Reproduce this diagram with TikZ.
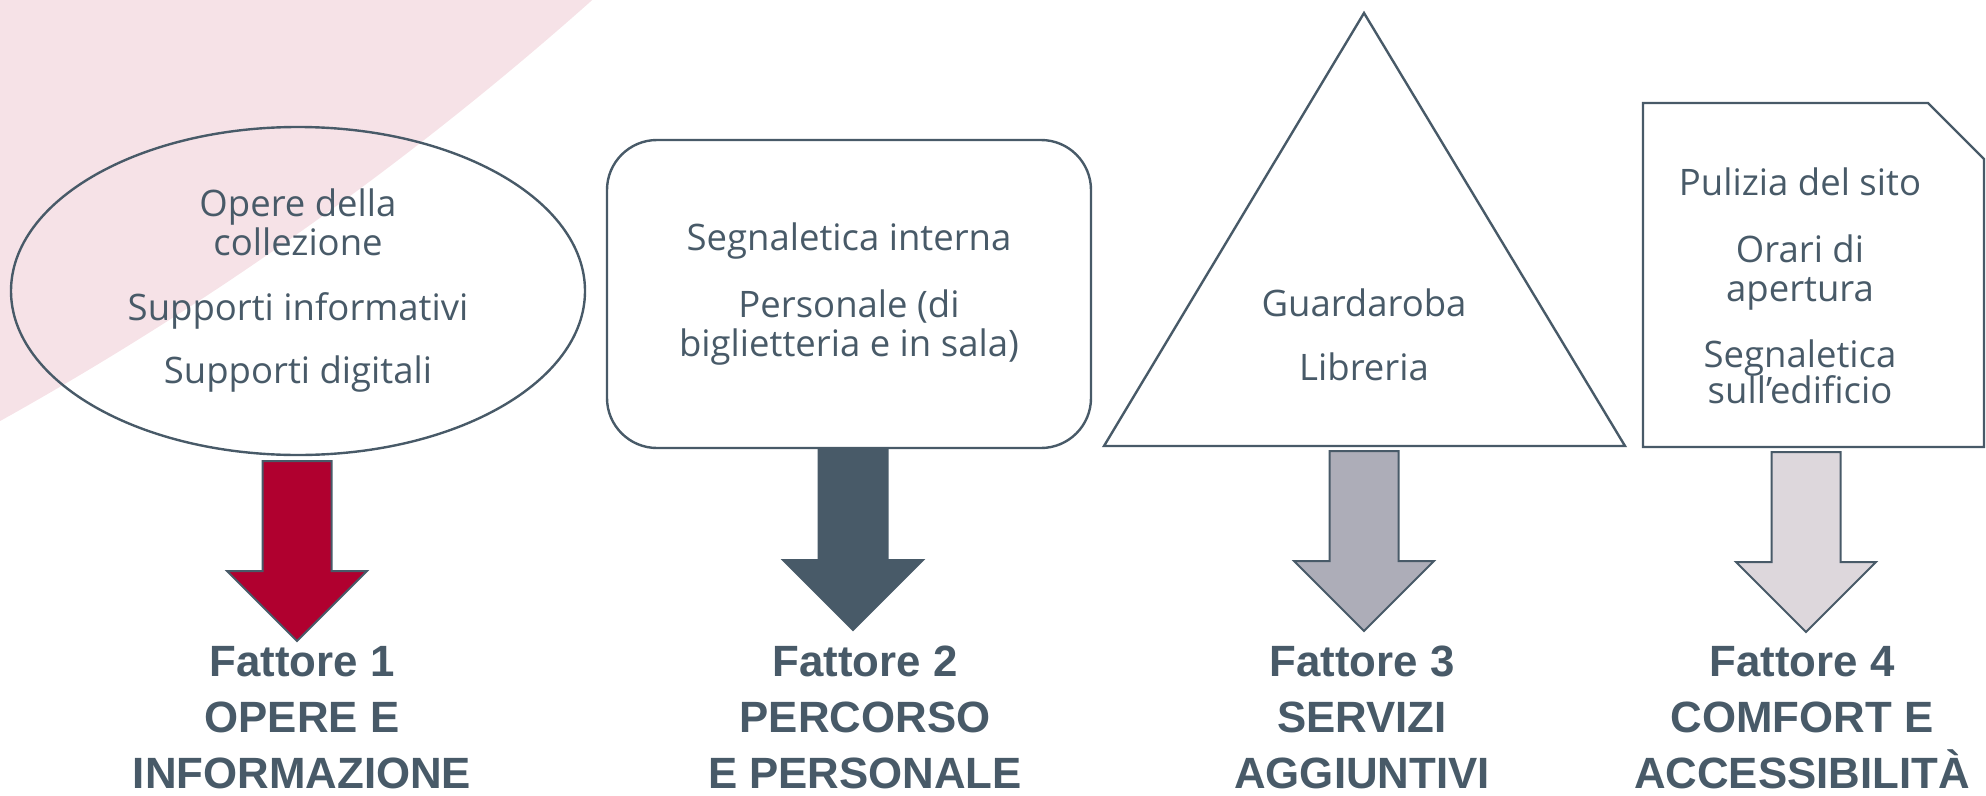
\documentclass[tikz,border=0pt]{standalone}
\usepackage{fontspec}
\setmainfont{Open Sans}
\newfontfamily\labelfont{Liberation Sans}
\usetikzlibrary{shapes.geometric}
\definecolor{slate}{HTML}{485A68}
\definecolor{redA}{HTML}{B0002F}
\definecolor{greyA}{HTML}{ADADB8}
\definecolor{pinkA}{HTML}{DDD7DC}
\definecolor{bgpink}{HTML}{F6E2E7}
\tikzset{
  shapeline/.style={draw=slate, line width=2.4pt},
  bodytext/.style={text=slate, align=center, font=\fontsize{36.5}{39}\selectfont, inner sep=0pt},
  factor/.style={text=slate, align=center, font=\labelfont\bfseries\fontsize{43.8}{56}\selectfont, anchor=base, inner sep=0pt},
  pics/dnarrow/.style={code={
    \draw[draw=slate, line width=2pt, line join=miter, fill=#1]
      (-34.5,0) -- (34.5,0) -- (34.5,110) -- (70,110) -- (0,180) -- (-70,110) -- (-34.5,110) -- cycle;}}
}
\begin{document}
\begin{tikzpicture}[x=1pt,y=-1pt]
\useasboundingbox (0,0) rectangle (1986,795);
\begin{scope}
  \clip (0,0) rectangle (1986,795);
  \fill[bgpink] (-1620,-2489) circle[radius=3330pt];
\end{scope}

% shapes with their items
\node[ellipse, shapeline, minimum width=574pt, minimum height=328pt, bodytext] (e1) at (298,291)
  {Opere della\\collezione\\[26pt]Supporti informativi\\[24pt]Supporti digitali};
\node[rectangle, rounded corners=50pt, shapeline, minimum width=484pt, minimum height=308pt, bodytext] (b2) at (849,294)
  {Segnaletica interna\\[28pt]Personale (di\\biglietteria e in sala)};

\coordinate (t3a) at (1364,13);
\coordinate (t3b) at (1104,446);
\coordinate (t3c) at (1625,446);
\draw[shapeline, line join=miter] (t3a) -- (t3b) -- (t3c) -- cycle;
\node[bodytext] (t3) at (1364,335) {Guardaroba\\[25pt]Libreria};

\coordinate (d4a) at (1643,103);
\coordinate (d4b) at (1928,103);
\coordinate (d4c) at (1984,159);
\coordinate (d4d) at (1984,447);
\coordinate (d4e) at (1643,447);
\draw[shapeline] (d4a) -- (d4b) -- (d4c) -- (d4d) -- (d4e) -- cycle;
\node[bodytext] (t4) at (1800,285.5) {Pulizia del sito\\[28pt]Orari di\\apertura\\[27pt]Segnaletica\\[-3pt]sull’edificio};

% block arrows
\pic at (297,461) {dnarrow=redA};
\pic at (853,450) {dnarrow=slate};
\pic at (1364,451) {dnarrow=greyA};
\pic at (1806,452) {dnarrow=pinkA};

% factor labels (anchor = baseline of the last line)
\node[factor] (f1) at (302,788.5) {Fattore 1\\OPERE E\\INFORMAZIONE};
\node[factor] (f2) at (865,788.5) {Fattore 2\\PERCORSO\\E PERSONALE};
\node[factor] (f3) at (1362,788.5) {Fattore 3\\SERVIZI\\AGGIUNTIVI};
\node[factor] (f4) at (1802,788.5) {Fattore 4\\COMFORT E\\ACCESSIBILITÀ};
\end{tikzpicture}
\end{document}
